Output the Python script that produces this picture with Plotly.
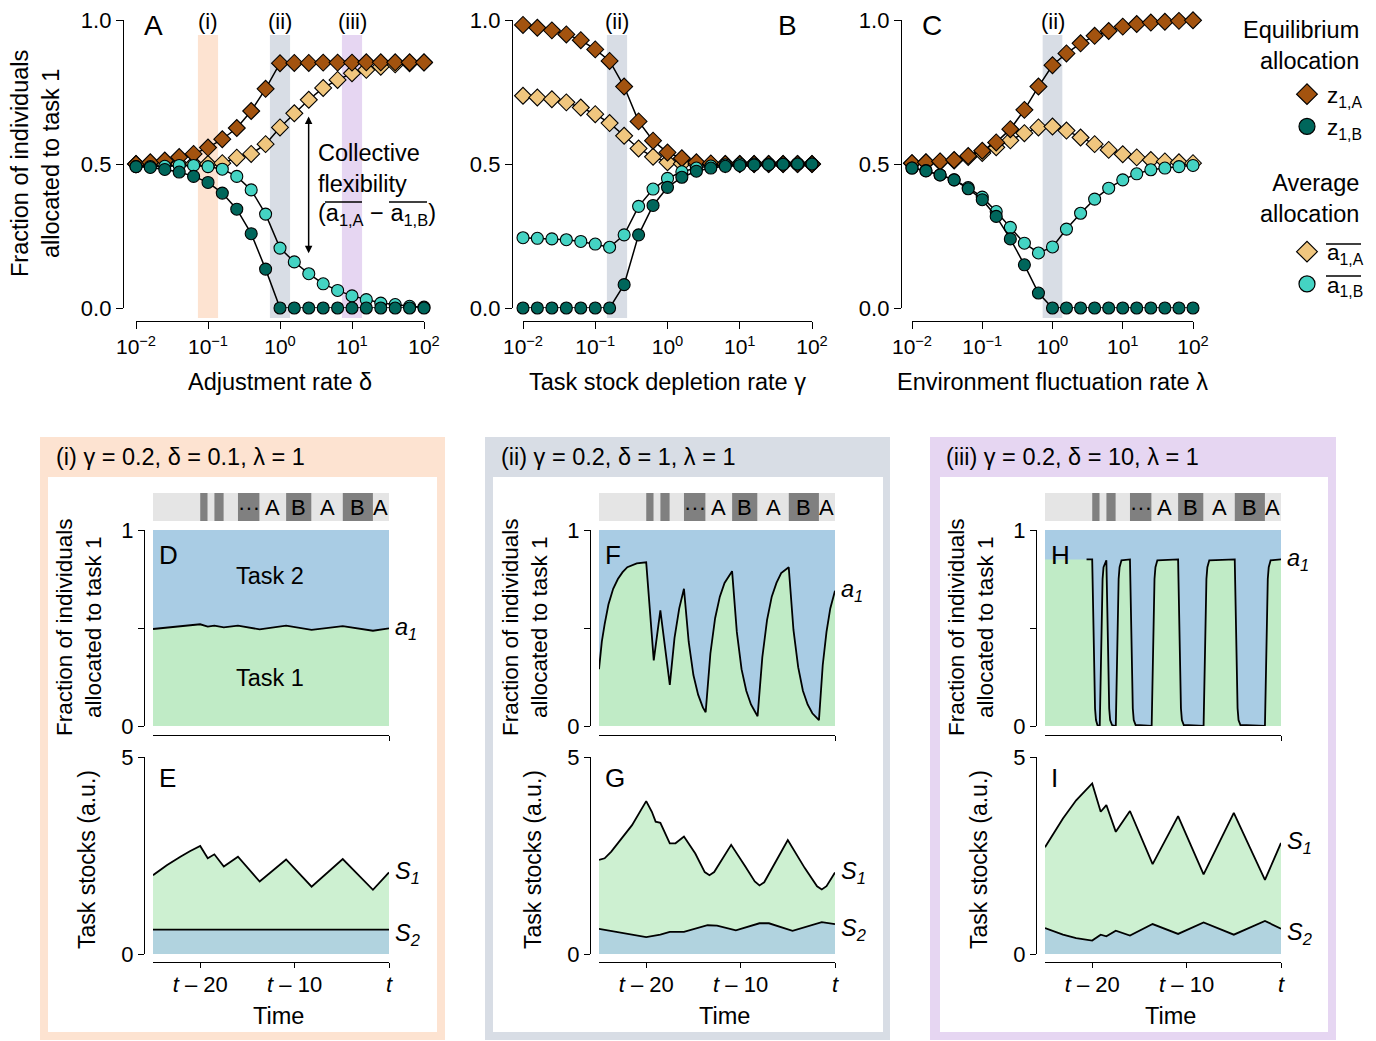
import math
import plotly.graph_objects as go

# page has an 8px body margin: size the figure so it fits the 1376x1041 window
PAGE_OFF = 8
W, H = 1376 - PAGE_OFF, 1041 - PAGE_OFF
FONT = "Liberation Sans, Arial, Helvetica, sans-serif"
TXT = 23.5


def fx(px):
    return (px - PAGE_OFF) / W


def fy(py):
    return 1 - (py - PAGE_OFF) / H


# ---------------- Top panels (A, B, C): parameter sweeps ----------------
sweep = [0.01, 0.0158, 0.0251, 0.0398, 0.0631, 0.1, 0.158, 0.251, 0.398, 0.631,
         1.0, 1.58, 2.51, 3.98, 6.31, 10.0, 15.8, 25.1, 39.8, 63.1, 100.0]
sweep_ticks = [0.01, 0.1, 1, 10, 100]
sweep_ticktext = ["10<sup>\u22122</sup>", "10<sup>\u22121</sup>", "10<sup>0</sup>",
                  "10<sup>1</sup>", "10<sup>2</sup>"]

A_z1A = [0.50, 0.506, 0.512, 0.524, 0.535, 0.557, 0.586, 0.625, 0.684, 0.761, 0.850,
         0.851, 0.851, 0.852, 0.852, 0.852, 0.853, 0.853, 0.853, 0.853, 0.853]
A_a1A = [0.50, 0.50, 0.50, 0.50, 0.50, 0.50, 0.503, 0.522, 0.535, 0.569, 0.627,
         0.676, 0.723, 0.764, 0.792, 0.815, 0.827, 0.838, 0.846, 0.850, 0.852]
A_a1B = [0.491, 0.491, 0.492, 0.495, 0.495, 0.491, 0.482, 0.457, 0.410, 0.326, 0.208,
         0.160, 0.119, 0.084, 0.061, 0.042, 0.029, 0.017, 0.012, 0.006, 0.003]
A_z1B = [0.491, 0.488, 0.481, 0.472, 0.457, 0.436, 0.399, 0.343, 0.258, 0.135, 0.0,
         0.0, 0.0, 0.0, 0.0, 0.0, 0.0, 0.0, 0.0, 0.0, 0.0]

B_z1A = [0.983, 0.973, 0.964, 0.950, 0.930, 0.898, 0.858, 0.769, 0.648, 0.581, 0.540,
         0.520, 0.506, 0.502, 0.50, 0.50, 0.50, 0.50, 0.50, 0.50, 0.50]
B_a1A = [0.737, 0.731, 0.725, 0.714, 0.696, 0.673, 0.642, 0.598, 0.554, 0.525, 0.506,
         0.501, 0.50, 0.50, 0.50, 0.50, 0.50, 0.50, 0.50, 0.50, 0.50]
B_a1B = [0.244, 0.242, 0.240, 0.237, 0.231, 0.222, 0.211, 0.254, 0.353, 0.413, 0.450,
         0.473, 0.486, 0.493, 0.497, 0.50, 0.50, 0.50, 0.50, 0.50, 0.50]
B_z1B = [0.0, 0.0, 0.0, 0.0, 0.0, 0.0, 0.0, 0.081, 0.254, 0.356, 0.419,
         0.454, 0.475, 0.486, 0.492, 0.495, 0.497, 0.498, 0.499, 0.50, 0.50]

C_z1A = [0.503, 0.506, 0.509, 0.514, 0.528, 0.546, 0.575, 0.621, 0.688, 0.769, 0.843,
         0.884, 0.919, 0.945, 0.962, 0.977, 0.986, 0.991, 0.994, 0.997, 0.999]
C_a1A = [0.503, 0.505, 0.508, 0.512, 0.524, 0.538, 0.558, 0.582, 0.607, 0.627, 0.630,
         0.616, 0.592, 0.569, 0.549, 0.534, 0.523, 0.514, 0.509, 0.506, 0.503]
C_a1B = [0.486, 0.477, 0.462, 0.445, 0.418, 0.385, 0.335, 0.280, 0.225, 0.191, 0.212,
         0.274, 0.329, 0.378, 0.416, 0.445, 0.466, 0.480, 0.486, 0.491, 0.495]
C_z1B = [0.486, 0.476, 0.462, 0.445, 0.414, 0.376, 0.318, 0.240, 0.150, 0.052, 0.0,
         0.0, 0.0, 0.0, 0.0, 0.0, 0.0, 0.0, 0.0, 0.0, 0.0]

# highlighted parameter values (bands) per panel
bands_A = [0.1, 1.0, 10.0]
bands_B = [0.2]
bands_C = [1.0]
band_labels_A = ["(i)", "(ii)", "(iii)"]
band_labels_B = ["(ii)"]
band_labels_C = ["(ii)"]

# ---------------- Bottom panels: time series ----------------
env_t = [-25, -20, -19.2, -18.5, -17.5, -16, -13.7, -10.9, -8.2, -4.9, -1.7, 0]
env_state = ["A", "B", "A", "B", "A", "B", "A", "B", "A", "B", "A"]
env_text = ["", "", "", "", "", "\u00b7\u00b7\u00b7", "A", "B", "A", "B", "A"]
time_ticks = [-20, -10, 0]
time_ticktext = ["<i>t</i> \u2013 20", "<i>t</i> \u2013 10", "<i>t</i>"]

D_t = [-25, -20, -19.2, -18.5, -17.5, -16, -13.7, -10.9, -8.2, -4.9, -1.7, 0]
D_a1 = [0.495, 0.519, 0.507, 0.512, 0.503, 0.512, 0.493, 0.512, 0.490, 0.510, 0.486, 0.498]

E_t = [-25, -23.5, -22.1, -21.1, -20, -19.2, -18.5, -17.5, -16, -13.7, -10.9, -8.2, -4.9, -1.7, 0]
E_S1 = [2.0, 2.26, 2.47, 2.61, 2.74, 2.43, 2.53, 2.22, 2.47, 1.84, 2.40, 1.71, 2.41, 1.63, 2.07]
E_S2 = [0.62, 0.62, 0.615, 0.615, 0.61, 0.61, 0.61, 0.61, 0.61, 0.61, 0.61, 0.61, 0.615, 0.615, 0.62]

F_t = [-25, -24.7, -24.4, -24.0, -23.5, -23.0, -22.5, -22.0, -21.0, -20.0,
       -19.2, -18.5, -17.5, -17.0, -16.5, -16.0,
       -15.5, -15.0, -14.5, -14.0, -13.7,
       -13.2, -12.7, -12.2, -11.7, -11.2, -10.9,
       -10.4, -9.9, -9.4, -8.9, -8.5, -8.2,
       -7.7, -7.2, -6.7, -6.2, -5.7, -5.2, -4.9,
       -4.4, -3.9, -3.4, -2.9, -2.4, -2.0, -1.7,
       -1.3, -0.9, -0.5, 0]
F_a1 = [0.29, 0.43, 0.52, 0.62, 0.70, 0.75, 0.785, 0.81, 0.83, 0.835,
        0.335, 0.59, 0.21, 0.45, 0.60, 0.70,
        0.43, 0.26, 0.16, 0.095, 0.07,
        0.37, 0.55, 0.66, 0.73, 0.77, 0.79,
        0.48, 0.29, 0.18, 0.11, 0.075, 0.05,
        0.35, 0.54, 0.66, 0.73, 0.78, 0.80, 0.81,
        0.49, 0.30, 0.18, 0.11, 0.065, 0.045, 0.03,
        0.31, 0.48, 0.60, 0.69]

G_t = [-25, -24.4, -23.7, -22.6, -21.5, -20.0, -19.4, -19.0, -18.5, -17.5, -16.9, -16.0,
       -14.8, -13.8, -13.3, -12.8, -11.0, -9.5, -8.5, -8.0, -7.5, -5.0,
       -3.2, -1.9, -1.4, -0.9, 0]
G_S1 = [2.39, 2.43, 2.60, 2.93, 3.27, 3.88, 3.61, 3.36, 3.33, 2.81, 2.81, 2.98,
        2.55, 2.08, 2.00, 2.08, 2.77, 2.22, 1.84, 1.74, 1.82, 2.89,
        2.18, 1.72, 1.64, 1.72, 2.07]
G_t2 = [-25, -23.0, -20.0, -18.5, -17.5, -16.0, -13.5, -12.5, -10.5, -8.0, -7.0, -4.5, -1.4, 0]
G_S2 = [0.64, 0.55, 0.43, 0.49, 0.56, 0.56, 0.73, 0.72, 0.60, 0.78, 0.78, 0.59, 0.81, 0.76]

H_t = [-25, -20.6, -20.0, -19.9, -19.8, -19.7, -19.6, -19.45, -19.2,
       -19.1, -19.0, -18.9, -18.8, -18.6,
       -18.5, -18.4, -18.3, -18.2, -18.1, -17.9,
       -17.5, -17.4, -17.3, -17.2, -17.1, -16.9,
       -16.0, -15.9, -15.8, -15.7, -15.6, -15.4,
       -13.7, -13.6, -13.5, -13.4, -13.3, -13.1,
       -10.9, -10.8, -10.7, -10.6, -10.5, -10.3,
       -8.2, -8.1, -8.0, -7.9, -7.8, -7.6,
       -4.9, -4.8, -4.7, -4.6, -4.5, -4.3,
       -1.7, -1.6, -1.5, -1.4, -1.3, -1.1,
       0]
H_a1 = [0.85, 0.85, 0.85, 0.6, 0.25, 0.09, 0.03, 0.005, 0.0,
        0.3, 0.6, 0.75, 0.81, 0.84,
        0.845, 0.6, 0.25, 0.09, 0.03, 0.005,
        0.0, 0.3, 0.6, 0.75, 0.81, 0.845,
        0.85, 0.6, 0.25, 0.09, 0.03, 0.005,
        0.0, 0.3, 0.6, 0.75, 0.81, 0.845,
        0.85, 0.6, 0.25, 0.09, 0.03, 0.005,
        0.0, 0.3, 0.6, 0.75, 0.81, 0.845,
        0.85, 0.6, 0.25, 0.09, 0.03, 0.005,
        0.0, 0.3, 0.6, 0.75, 0.81, 0.845,
        0.85]
H_line_start = 1  # the drawn a1 line of H starts at t - 20.6 (label H covers the start)

I_t = [-25, -24.1, -23.1, -21.7, -20.0, -19.1, -18.5, -17.5, -16.0, -13.6, -10.9, -8.2, -5.0, -1.7, 0]
I_S1 = [2.71, 3.06, 3.44, 3.90, 4.33, 3.61, 3.78, 3.10, 3.63, 2.28, 3.50, 2.02, 3.58, 1.88, 2.82]
I_S2 = [0.66, 0.57, 0.49, 0.40, 0.34, 0.49, 0.45, 0.59, 0.47, 0.76, 0.51, 0.80, 0.49, 0.84, 0.64]

box_titles = ["(i) \u03b3 = 0.2, \u03b4 = 0.1, \u03bb = 1",
              "(ii) \u03b3 = 0.2, \u03b4 = 1, \u03bb = 1",
              "(iii) \u03b3 = 0.2, \u03b4 = 10, \u03bb = 1"]

# ---------------- Styles ----------------
C_Z1A = "#a3530f"
C_A1A = "#f0c67e"
C_A1B = "#44d3c3"
C_Z1B = "#00665b"
BAND_COLORS = {"(i)": "#fde3d1", "(ii)": "#d8dde5", "(iii)": "#e6d6f2"}
BOX_COLORS = ["#fde3d1", "#d8dde5", "#e6d6f2"]
ENV_LIGHT = "#e5e5e5"
ENV_DARK = "#808080"
D_BLUE = "#a9cce4"
D_GREEN = "#c0ebc6"
E_GREEN = "#cdf0d1"
E_BLUE = "#b1d3df"

fig = go.Figure()
shapes = []
annotations = []


def ann(text, x, y, size=TXT, xanchor="center", yanchor="middle", **kw):
    d = dict(text=text, x=x, y=y, xref=kw.pop("xref", "paper"), yref=kw.pop("yref", "paper"),
             showarrow=False, xanchor=xanchor, yanchor=yanchor,
             font=dict(family=FONT, size=size, color="black"))
    d.update(kw)
    annotations.append(d)


def overline(x0px, x1px, ypx):
    shapes.append(dict(type="line", xref="paper", yref="paper", x0=fx(x0px), x1=fx(x1px),
                       y0=fy(ypx), y1=fy(ypx), line=dict(color="black", width=1.3)))


axis_common = dict(showgrid=False, zeroline=False, showline=True, linecolor="black",
                   linewidth=1.3, ticks="outside", tickcolor="black", tickwidth=1.3,
                   ticklabeloverflow="allow",
                   tickfont=dict(family=FONT, size=22, color="black"))

# ---- top panels ----
top_panels = [
    dict(xa="x", ya="y", xdom=(136, 424), yspine=123,
         series=(A_a1A, A_z1A, A_a1B, A_z1B), bands=bands_A, blabels=band_labels_A,
         title="Adjustment rate \u03b4", letter="A", letter_px=(153, 25)),
    dict(xa="x2", ya="y2", xdom=(523, 812), yspine=512,
         series=(B_a1A, B_z1A, B_a1B, B_z1B), bands=bands_B, blabels=band_labels_B,
         title="Task stock depletion rate \u03b3", letter="B", letter_px=(787, 25)),
    dict(xa="x3", ya="y3", xdom=(912, 1193), yspine=901,
         series=(C_a1A, C_z1A, C_a1B, C_z1B), bands=bands_C, blabels=band_labels_C,
         title="Environment fluctuation rate \u03bb", letter="C", letter_px=(932, 25)),
]

styles = [("diamond", C_A1A, 13), ("diamond", C_Z1A, 13), ("circle", C_A1B, 12), ("circle", C_Z1B, 12)]
half_band = 0.14  # decades

for i, p in enumerate(top_panels):
    for ser, (sym, col, sz) in zip(p["series"], styles):
        fig.add_trace(go.Scatter(
            x=sweep, y=ser, mode="lines+markers", xaxis=p["xa"], yaxis=p["ya"],
            line=dict(color="black", width=1.5),
            marker=dict(symbol=sym, size=sz, color=col, line=dict(color="black", width=1.1)),
            cliponaxis=False, showlegend=False, hoverinfo="skip"))
    sfx = "" if i == 0 else str(i + 1)
    fig.layout["xaxis" + sfx] = dict(
        axis_common, type="log", range=[-2, 2], domain=[fx(p["xdom"][0]), fx(p["xdom"][1])],
        anchor="free", position=fy(321), tickvals=sweep_ticks, ticktext=sweep_ticktext, ticklen=7,
        tickfont=dict(family=FONT, size=21, color="black"))
    fig.layout["yaxis" + sfx] = dict(
        axis_common, range=[0, 1], domain=[fy(308), fy(20)], anchor="free",
        position=fx(p["yspine"]), tickvals=[0, 0.5, 1], ticktext=["0.0", "0.5", "1.0"], ticklen=7)
    for b, lab in zip(p["bands"], p["blabels"]):
        shapes.append(dict(type="rect", xref=p["xa"], yref="paper",
                           x0=b / 10 ** half_band, x1=b * 10 ** half_band,
                           y0=fy(318), y1=fy(35), fillcolor=BAND_COLORS[lab],
                           line=dict(width=0), layer="below"))
        ann(lab, math.log10(b), fy(PAGE_OFF), size=22, xref=p["xa"], yanchor="top", borderpad=0)
    cx = (p["xdom"][0] + p["xdom"][1]) / 2
    ann(p["title"], fx(cx), fy(382))
    ann(p["letter"], fx(p["letter_px"][0]), fy(p["letter_px"][1]), size=28)

ann("Fraction of individuals<br>allocated to task 1", fx(35), fy(164), textangle=-90)

# collective flexibility arrow + text
annotations.append(dict(x=math.log10(2.5), y=0.19, ax=math.log10(2.5), ay=0.67,
                        xref="x", yref="y", axref="x", ayref="y", text="", showarrow=True,
                        arrowhead=2, startarrowhead=2, arrowside="end+start",
                        arrowsize=1, arrowwidth=1.5, arrowcolor="black"))
ann("Collective<br>flexibility", fx(316), fy(168), xanchor="left", align="left")
ann("(a<sub>1,A</sub> \u2212 a<sub>1,B</sub>)", fx(316), fy(214), xanchor="left")
overline(325, 362, 202)
overline(389, 427, 202)

# legend group titles
ann("Equilibrium<br>allocation", fx(1361), fy(45), xanchor="right", align="right")
ann("Average<br>allocation", fx(1361), fy(198), xanchor="right", align="right")

legend_items = [("z<sub>1,A</sub>", "diamond", C_Z1A, "eq"),
                ("z<sub>1,B</sub>", "circle", C_Z1B, "eq"),
                ("a<sub>1,A</sub>", "diamond", C_A1A, "avg"),
                ("a<sub>1,B</sub>", "circle", C_A1B, "avg")]
for name, sym, col, grp in legend_items:
    fig.add_trace(go.Scatter(x=[None], y=[None], mode="markers", name=name, legendgroup=grp,
                             xaxis="x3", yaxis="y3",
                             marker=dict(symbol=sym, size=16, color=col,
                                         line=dict(color="black", width=1.2))))
overline(1326, 1361, 244)
overline(1326, 1361, 276)

# ---- bottom boxes ----
offsets = [0, 446, 892]
box_outer = [(40, 445), (485, 890), (930, 1336)]
box_inner = [(48, 437), (493, 883), (940, 1328)]
top_series = [(D_t, D_a1, 0), (F_t, F_a1, 0), (H_t, H_a1, H_line_start)]
bot_series = [((E_t, E_S1), (E_t, E_S2)), ((G_t, G_S1), (G_t2, G_S2)), ((I_t, I_S1), (I_t, I_S2))]
letters_top = ["D", "F", "H"]
letters_bot = ["E", "G", "I"]

for c in range(3):
    off = offsets[c]
    shapes.append(dict(type="rect", xref="paper", yref="paper",
                       x0=fx(box_outer[c][0]), x1=fx(box_outer[c][1]), y0=fy(1040), y1=fy(437),
                       fillcolor=BOX_COLORS[c], line=dict(width=0), layer="below"))
    shapes.append(dict(type="rect", xref="paper", yref="paper",
                       x0=fx(box_inner[c][0]), x1=fx(box_inner[c][1]), y0=fy(1032), y1=fy(477),
                       fillcolor="white", line=dict(width=0), layer="below"))
    ann(box_titles[c], fx(box_outer[c][0] + 14), fy(457), xanchor="left")

    xt = "x%d" % (4 + 2 * c)
    yt = "y%d" % (4 + 2 * c)
    xb = "x%d" % (5 + 2 * c)
    yb = "y%d" % (5 + 2 * c)
    xdom = [fx(153 + off), fx(389 + off)]

    fig.layout["xaxis%d" % (4 + 2 * c)] = dict(
        axis_common, range=[-25, 0], domain=xdom, anchor="free", position=fy(735),
        tickvals=[0], ticktext=[""], ticklen=5)
    fig.layout["yaxis%d" % (4 + 2 * c)] = dict(
        axis_common, range=[0, 1], domain=[fy(726), fy(530)], anchor="free",
        position=fx(144 + off), tickvals=[0, 0.5, 1], ticktext=["0", "", "1"], ticklen=6)
    fig.layout["xaxis%d" % (5 + 2 * c)] = dict(
        axis_common, range=[-25, 0], domain=xdom, anchor="free", position=fy(962),
        tickvals=time_ticks, ticktext=time_ticktext, ticklen=5, ticklabelstandoff=-3)
    fig.layout["yaxis%d" % (5 + 2 * c)] = dict(
        axis_common, range=[0, 5], domain=[fy(954), fy(757)], anchor="free",
        position=fx(144 + off), tickvals=[0, 5], ticktext=["0", "5"], ticklen=6)

    # allocation panel: task 2 (blue) above, task 1 (green) below a1
    tt, aa, s0 = top_series[c]
    fig.add_trace(go.Scatter(x=[tt[0], tt[-1]], y=[1, 1], mode="lines", fill="tozeroy",
                             fillcolor=D_BLUE, line=dict(width=0, color=D_BLUE),
                             xaxis=xt, yaxis=yt, showlegend=False, hoverinfo="skip"))
    fig.add_trace(go.Scatter(x=tt, y=aa, mode="lines", fill="tozeroy", fillcolor=D_GREEN,
                             line=dict(width=0, color=D_GREEN), xaxis=xt, yaxis=yt,
                             showlegend=False, hoverinfo="skip"))
    fig.add_trace(go.Scatter(x=tt[s0:], y=aa[s0:], mode="lines",
                             line=dict(color="black", width=1.8), xaxis=xt, yaxis=yt,
                             showlegend=False, hoverinfo="skip", cliponaxis=False))
    ann("<i>a<sub>1</sub></i>", tt[-1], aa[-1], xanchor="left", xref=xt, yref=yt, xshift=4)

    # task stock panel
    (t1, s1), (t2, s2) = bot_series[c]
    fig.add_trace(go.Scatter(x=t1, y=s1, mode="lines", fill="tozeroy", fillcolor=E_GREEN,
                             line=dict(color="black", width=1.8), xaxis=xb, yaxis=yb,
                             showlegend=False, hoverinfo="skip"))
    fig.add_trace(go.Scatter(x=t2, y=s2, mode="lines", fill="tozeroy", fillcolor=E_BLUE,
                             line=dict(color="black", width=1.8), xaxis=xb, yaxis=yb,
                             showlegend=False, hoverinfo="skip"))
    ann("<i>S<sub>1</sub></i>", t1[-1], s1[-1], xanchor="left", xref=xb, yref=yb, xshift=4)
    ann("<i>S<sub>2</sub></i>", t2[-1], s2[-1], xanchor="left", xref=xb, yref=yb,
        xshift=4, yshift=-5)

    # environment bar
    for k in range(len(env_state)):
        shapes.append(dict(type="rect", xref=xt, yref="paper", x0=env_t[k], x1=env_t[k + 1],
                           y0=fy(521), y1=fy(493),
                           fillcolor=ENV_LIGHT if env_state[k] == "A" else ENV_DARK,
                           line=dict(width=0)))
        if env_text[k]:
            ann(env_text[k], (env_t[k] + env_t[k + 1]) / 2, fy(507), size=22, xref=xt)

    # labels
    ann(letters_top[c], fx(157 + off), fy(555), size=26, xanchor="left")
    ann(letters_bot[c], fx(157 + off), fy(778), size=26, xanchor="left")
    ann("Fraction of individuals<br>allocated to task 1", fx(79 + off), fy(627), size=22.5,
        textangle=-90)
    ann("Task stocks (a.u.)", fx(87 + off), fy(860), size=23, textangle=-90)
    ann("Time", fx(278 + off), fy(1016))

# task labels in D
ann("Task 2", -12.6, 0.765, xref="x4", yref="y4")
ann("Task 1", -12.6, 0.245, xref="x4", yref="y4")

fig.update_layout(
    width=W, height=H, autosize=False,
    margin=dict(l=0, r=0, t=0, b=0, autoexpand=False),
    paper_bgcolor="white", plot_bgcolor="rgba(0,0,0,0)",
    font=dict(family=FONT, size=21, color="black"),
    shapes=shapes, annotations=annotations,
    showlegend=True,
    legend=dict(x=fx(1287), y=fy(73), xanchor="left", yanchor="top",
                bgcolor="rgba(0,0,0,0)", font=dict(family=FONT, size=22.5, color="black"),
                traceorder="grouped", tracegroupgap=93, itemsizing="trace"),
)

fig.write_html("out.html")
